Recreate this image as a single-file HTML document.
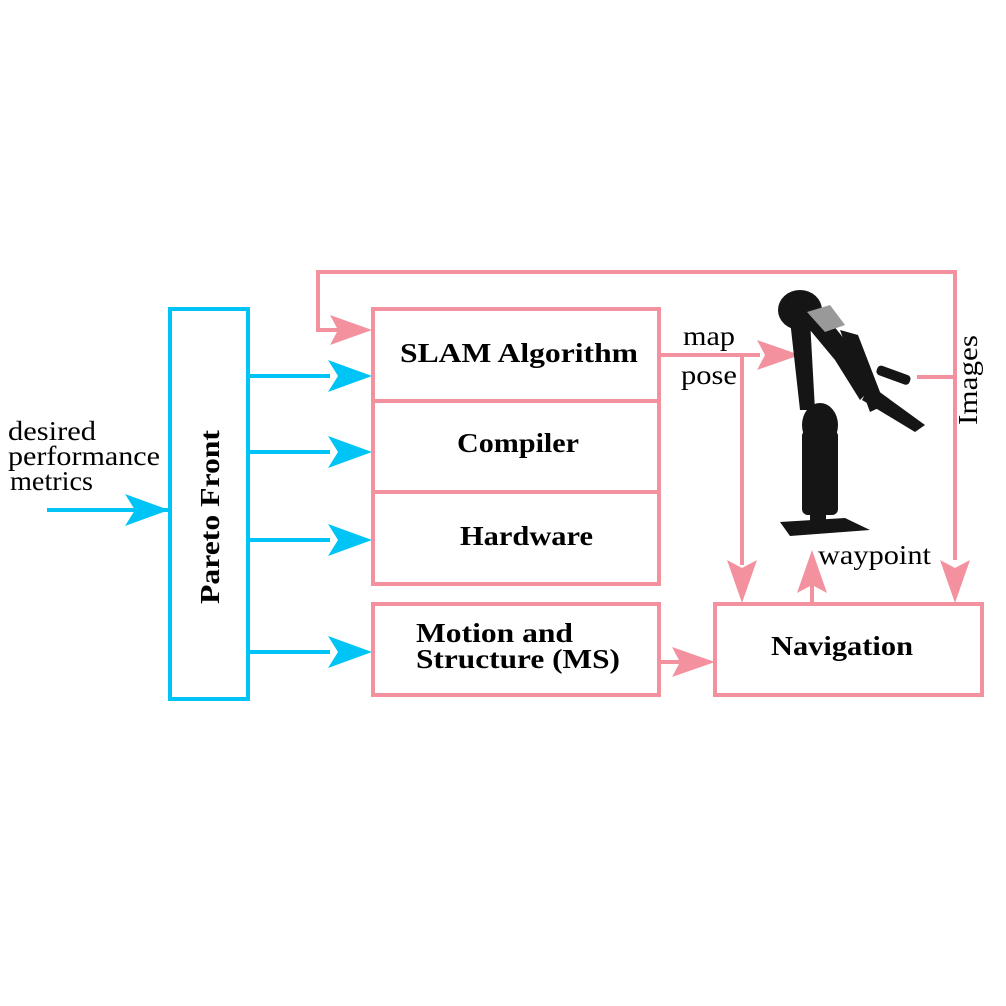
<!DOCTYPE html>
<html><head><style>
html,body{margin:0;padding:0;background:#fff;}
svg{display:block}
text{font-family:"Liberation Serif",serif;fill:#000}
</style></head><body>
<svg width="1006" height="1006" viewBox="0 0 1006 1006" xmlns="http://www.w3.org/2000/svg">
<g fill="none" stroke-width="4">
<rect x="170" y="309" width="78" height="390" stroke="#00c4f5"/>
<g stroke="#00c4f5">
<line x1="47" y1="510" x2="168" y2="510"/>
<line x1="249" y1="376" x2="330" y2="376"/>
<line x1="249" y1="452" x2="330" y2="452"/>
<line x1="249" y1="540" x2="330" y2="540"/>
<line x1="249" y1="652" x2="330" y2="652"/>
</g>
<g stroke="#f4919f">
<rect x="373" y="309" width="286" height="275"/>
<line x1="373" y1="401" x2="659" y2="401"/>
<line x1="373" y1="492" x2="659" y2="492"/>
<rect x="373" y="604" width="286" height="91"/>
<rect x="715" y="604" width="267" height="91"/>
<polyline points="340,330 318,330 318,272 955,272 955,560"/>
<line x1="659" y1="355" x2="760" y2="355"/>
<line x1="742" y1="355" x2="742" y2="565"/>
<line x1="812" y1="604" x2="812" y2="585"/>
<line x1="917" y1="377" x2="955" y2="377"/>
<line x1="659" y1="662" x2="680" y2="662"/>
</g>
</g>
<g fill="#00c4f5">
<path d="M372,376 L328,360 L338,376 L328,392Z"/>
<path d="M372,452 L328,436 L338,452 L328,468Z"/>
<path d="M372,540 L328,524 L338,540 L328,556Z"/>
<path d="M372,652 L328,636 L338,652 L328,668Z"/>
<path d="M169,510 L125,494 L135,510 L125,526Z"/>
</g>
<g fill="#f4919f">
<path d="M372,330 L330,315 L338,330 L330,345Z"/>
<path d="M800,355 L757,340 L765,355 L757,370Z"/>
<path d="M742,603 L727,560 L742,568 L757,560Z"/>
<path d="M955,603 L940,560 L955,568 L970,560Z"/>
<path d="M812,550 L797,593 L812,585 L827,593Z"/>
<path d="M715,662 L672,647 L680,662 L672,677Z"/>
</g>
<!-- robot -->
<g fill="#151515">
<ellipse cx="800" cy="310" rx="22" ry="20"/>
<path d="M800,300 L825,315 L845,340 L870,390 L860,400 L835,360 L810,330 Z"/>
<path d="M790,320 L810,320 L815,410 L800,410 Z"/>
<path d="M840,330 L858,335 L885,405 L870,412 Z"/>
<ellipse cx="820" cy="425" rx="18" ry="22"/>
<rect x="802" y="430" width="36" height="85" rx="6"/>
<rect x="810" y="505" width="16" height="20"/>
<path d="M780,522 L845,518 L870,530 L790,536 Z"/>
<path d="M870,385 L925,425 L915,432 L862,400 Z"/>
<rect x="876" y="370" width="35" height="10" rx="4" transform="rotate(20 893 375)"/>
</g>
<path d="M807,312 L830,305 L845,325 L825,332 Z" fill="#999"/>
<g font-weight="bold" font-size="27" lengthAdjust="spacingAndGlyphs">
<text x="400" y="362" textLength="238" lengthAdjust="spacingAndGlyphs">SLAM Algorithm</text>
<text x="457" y="452" textLength="122" lengthAdjust="spacingAndGlyphs">Compiler</text>
<text x="460" y="545" textLength="133" lengthAdjust="spacingAndGlyphs">Hardware</text>
<text x="416" y="642" textLength="157" lengthAdjust="spacingAndGlyphs">Motion and</text>
<text x="416" y="668" textLength="204" lengthAdjust="spacingAndGlyphs">Structure (MS)</text>
<text x="771" y="655" textLength="142" lengthAdjust="spacingAndGlyphs">Navigation</text>
<text transform="translate(219,604) rotate(-90)" textLength="174" lengthAdjust="spacingAndGlyphs">Pareto Front</text>
</g>
<g font-size="27">
<text x="8" y="440" textLength="88" lengthAdjust="spacingAndGlyphs">desired</text>
<text x="8" y="465" textLength="152" lengthAdjust="spacingAndGlyphs">performance</text>
<text x="10" y="490" textLength="83" lengthAdjust="spacingAndGlyphs">metrics</text>
<text x="683" y="345" textLength="52" lengthAdjust="spacingAndGlyphs">map</text>
<text x="681" y="384" textLength="56" lengthAdjust="spacingAndGlyphs">pose</text>
<text x="818" y="564" textLength="113" lengthAdjust="spacingAndGlyphs">waypoint</text>
<text transform="translate(977,425) rotate(-90)" textLength="90" lengthAdjust="spacingAndGlyphs">Images</text>
</g>
</svg>
</body></html>
